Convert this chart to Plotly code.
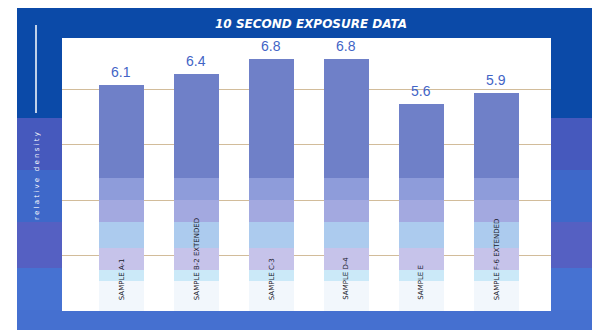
import plotly.graph_objects as go

# ---- data -------------------------------------------------------------
categories = ["SAMPLE A-1", "SAMPLE B-2 EXTENDED", "SAMPLE C-3", "SAMPLE D-4", "SAMPLE E", "SAMPLE F-6 EXTENDED"]
values = [6.1, 6.4, 6.8, 6.8, 5.6, 5.9]
title_text = "10 SECOND EXPOSURE DATA"
axis_title = "r e l a t i v e   d e n s i t y"

# colour bands for the bar shading, bottom to top (value thresholds)
band_edges = [0.0, 0.8, 1.1, 1.7, 2.4, 3.0, 3.6, 99.0]
band_colors = ["#F2F7FC", "#CBE9F8", "#C6C3EA", "#ACCBEE", "#A3A9E0", "#8E9CDA", "#6F80C8"]

W, H = 598, 330
L, R, T, B = 62, 551, 38, 311   # plot area in pixels


def xp(px):
    return (px - L) / (R - L)


def yp(py):
    return (B - py) / (B - T)


fig = go.Figure()

# stacked shading segments that make up each bar
for i, col in enumerate(band_colors):
    lo, hi = band_edges[i], band_edges[i + 1]
    seg = [max(0.0, min(v, hi) - lo) for v in values]
    fig.add_trace(go.Bar(
        x=categories, y=seg, width=0.6,
        marker=dict(color=col, line=dict(width=0)),
        hoverinfo="skip", showlegend=False,
    ))

# value labels above bars
for c, v in zip(categories, values):
    fig.add_annotation(
        x=c, y=v, text=f"{v:.1f}", showarrow=False,
        yanchor="bottom", yshift=3,
        font=dict(family="Liberation Sans", size=14, color="#4264C6"),
    )

# category names written up the lower part of each bar
for c in categories:
    fig.add_annotation(
        x=c, y=0.25, text=c, showarrow=False, textangle=-90,
        yanchor="bottom",
        font=dict(family="DejaVu Sans", size=7, color="#1A1A2A"),
    )

# blue frame behind the chart, shaded in horizontal bands
frame = [
    (8, 118, "#0B4AA8"),
    (118, 170, "#4659BD"),
    (170, 222, "#3E68C9"),
    (222, 268, "#5560C2"),
    (268, 310, "#4672D2"),
    (310, 331, "#4570D0"),
]
for y0, y1, col in frame:
    fig.add_shape(type="rect", xref="paper", yref="paper",
                  x0=xp(17), x1=xp(592), y0=yp(y1), y1=yp(y0),
                  fillcolor=col, line=dict(width=0), layer="below")

# white panel for the plotting area
fig.add_shape(type="rect", xref="paper", yref="paper",
              x0=0, x1=1, y0=0, y1=1,
              fillcolor="white", line=dict(width=0), layer="below")

# white rule on the left frame
fig.add_shape(type="line", xref="paper", yref="paper",
              x0=xp(36), x1=xp(36), y0=yp(113), y1=yp(25),
              line=dict(color="white", width=1.5))

# vertical axis caption
fig.add_annotation(
    xref="paper", yref="paper", x=xp(37), y=yp(176),
    xanchor="center", yanchor="middle",
    text=axis_title, showarrow=False, textangle=-90,
    font=dict(family="DejaVu Sans", size=7, color="white"),
)

# title in the top frame band
fig.add_annotation(
    xref="paper", yref="paper", x=xp(311), y=yp(24),
    xanchor="center", yanchor="middle",
    text=f"<b><i>{title_text}</i></b>", showarrow=False,
    font=dict(family="DejaVu Sans", size=12, color="white"),
)

fig.update_layout(
    width=W, height=H,
    margin=dict(l=L, r=W - R, t=T, b=H - B, pad=0),
    paper_bgcolor="white", plot_bgcolor="white",
    barmode="stack", bargap=0.4,
    showlegend=False,
    xaxis=dict(range=[-0.793, 5.727], showticklabels=False, ticks="",
               showgrid=False, zeroline=False, showline=False),
    yaxis=dict(range=[0, 7.38], dtick=1.5, showticklabels=False, ticks="",
               showgrid=True, gridcolor="#D2BC9A", gridwidth=1,
               zeroline=False, showline=False),
)

fig.write_html("out.html")
